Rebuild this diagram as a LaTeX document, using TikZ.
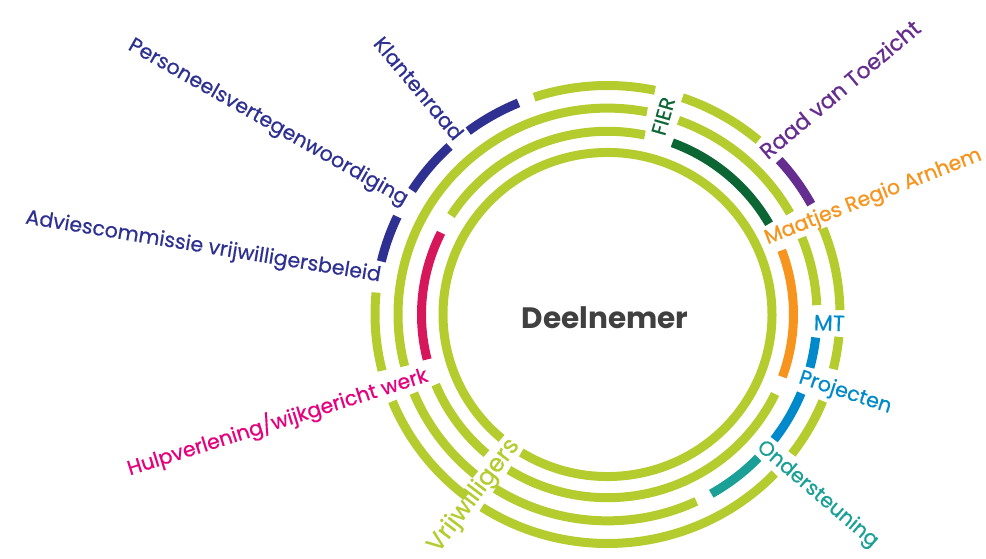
\documentclass[tikz,border=0pt]{standalone}
\usepackage{fontspec}
\setmainfont{Poppins}
\newfontfamily\ringfont{Poppins}[FakeBold=0.6]

\definecolor{lime}{RGB}{181,204,46}
\definecolor{navy}{RGB}{46,49,146}
\definecolor{fiergreen}{RGB}{12,102,52}
\definecolor{toezicht}{RGB}{102,45,145}
\definecolor{maatjes}{RGB}{247,148,29}
\definecolor{mtblue}{RGB}{0,138,204}
\definecolor{steun}{RGB}{26,160,150}
\definecolor{hulpred}{RGB}{214,24,90}
\definecolor{hulptext}{RGB}{230,0,126}
\definecolor{deeltext}{RGB}{64,64,64}

\begin{document}
\begin{tikzpicture}[
    x=1pt, y=1pt,
    ring/.style={line width=9pt},
    ringtext/.style={font=\ringfont\fontsize{20.5}{20.5}\selectfont, inner sep=0pt}
]
\useasboundingbox (-607.5,-244.5) rectangle (378.5,314.5);

% Rings
\begin{scope}[yscale=0.985]
% inner ring
\draw[ring, lime] (-121.6:164.5) arc[start angle=-121.6, end angle=229.9, radius=164.5];
% second ring
\draw[ring, lime] (-122:186) arc[start angle=-122, end angle=-25.7, radius=186];
\draw[ring, maatjes] (-19.9:186) arc[start angle=-19.9, end angle=20.5, radius=186];
\draw[ring, fiergreen] (29.7:186) arc[start angle=29.7, end angle=69.6, radius=186];
\draw[ring, lime] (78.4:186) arc[start angle=78.4, end angle=147.3, radius=186];
\draw[ring, hulpred] (153.5:186) arc[start angle=153.5, end angle=194.2, radius=186];
\draw[ring, lime] (202.5:186) arc[start angle=202.5, end angle=229.4, radius=186];
% third ring
\draw[ring, lime] (-122.4:209.5) arc[start angle=-122.4, end angle=-64.9, radius=209.5];
\draw[ring, steun] (-60.3:209.5) arc[start angle=-60.3, end angle=-44, radius=209.5];
\draw[ring, mtblue] (-37.3:209.5) arc[start angle=-37.3, end angle=-22.4, radius=209.5];
\draw[ring, mtblue] (-14.9:209.5) arc[start angle=-14.9, end angle=-6.4, radius=209.5];
\draw[ring, lime] (2.6:209.5) arc[start angle=2.6, end angle=21.9, radius=209.5];
\draw[ring, lime] (29.4:209.5) arc[start angle=29.4, end angle=70.2, radius=209.5];
\draw[ring, lime] (79.1:209.5) arc[start angle=79.1, end angle=194.5, radius=209.5];
\draw[ring, lime] (202.4:209.5) arc[start angle=202.4, end angle=230.9, radius=209.5];
% outer ring
\draw[ring, lime] (-122.7:232.5) arc[start angle=-122.7, end angle=-44, radius=232.5];
\draw[ring, lime] (-37.5:232.5) arc[start angle=-37.5, end angle=-22.2, radius=232.5];
\draw[ring, lime] (-13.8:232.5) arc[start angle=-13.8, end angle=-5.6, radius=232.5];
\draw[ring, lime] (1.1:232.5) arc[start angle=1.1, end angle=22.1, radius=232.5];
\draw[ring, toezicht] (28.8:232.5) arc[start angle=28.8, end angle=42.4, radius=232.5];
\draw[ring, lime] (49.5:232.5) arc[start angle=49.5, end angle=71.2, radius=232.5];
\draw[ring, lime] (78.2:232.5) arc[start angle=78.2, end angle=108.4, radius=232.5];
\draw[ring, navy] (112.5:232.5) arc[start angle=112.5, end angle=126.8, radius=232.5];
\draw[ring, navy] (132.8:232.5) arc[start angle=132.8, end angle=147.2, radius=232.5];
\draw[ring, navy] (154.7:232.5) arc[start angle=154.7, end angle=166.6, radius=232.5];
\draw[ring, lime] (174.5:232.5) arc[start angle=174.5, end angle=194.2, radius=232.5];
\draw[ring, lime] (202.3:232.5) arc[start angle=202.3, end angle=232.6, radius=232.5];
\end{scope}

% Centre
\node[font=\fontsize{29.5}{29.5}\selectfont\bfseries, deeltext] (deelnemer) at (-2.5,-3.5) {Deelnemer};

% Labels
\node[ringtext, navy, rotate=-50.2, anchor=east] (klanten) at (129.8:231) {Klantenraad};
\node[ringtext, navy, rotate=-29.5, anchor=east] (personeel) at (150.6:231) {Personeelsvertegenwoordiging};
\node[ringtext, navy, rotate=-9.3, anchor=east] (advies) at (170.5:230) {Adviescommissie vrijwilligersbeleid};
\node[ringtext, hulptext, rotate=17.5, anchor=east] (hulp) at (198.4:190) {Hulpverlening/wijkgericht werk};
\node[ringtext, lime, rotate=53, anchor=east, font=\ringfont\fontsize{24.5}{24.5}\selectfont] (vrijwilligers) at (234:157) {Vrijwilligers};
\node[ringtext, steun, rotate=-40.5, anchor=west] (ondersteuning) at (-40.7:200) {Ondersteuning};
\node[ringtext, mtblue, rotate=-18.3, anchor=west] (projecten) at (-18.3:202) {Projecten};
\node[ringtext, mtblue, rotate=-2, font=\ringfont\fontsize{22}{22}\selectfont] (mt) at (-2.2:222) {MT};
\node[ringtext, maatjes, rotate=21.5, anchor=west] (maatjes) at (25.3:175) {Maatjes Regio Arnhem};
\node[ringtext, toezicht, rotate=40, anchor=west, font=\ringfont\fontsize{22}{22}\selectfont] (toezicht) at (46:223) {Raad van Toezicht};
\node[ringtext, fiergreen, rotate=74] (fier) at (74.3:206) {FIER};

\end{tikzpicture}
\end{document}
